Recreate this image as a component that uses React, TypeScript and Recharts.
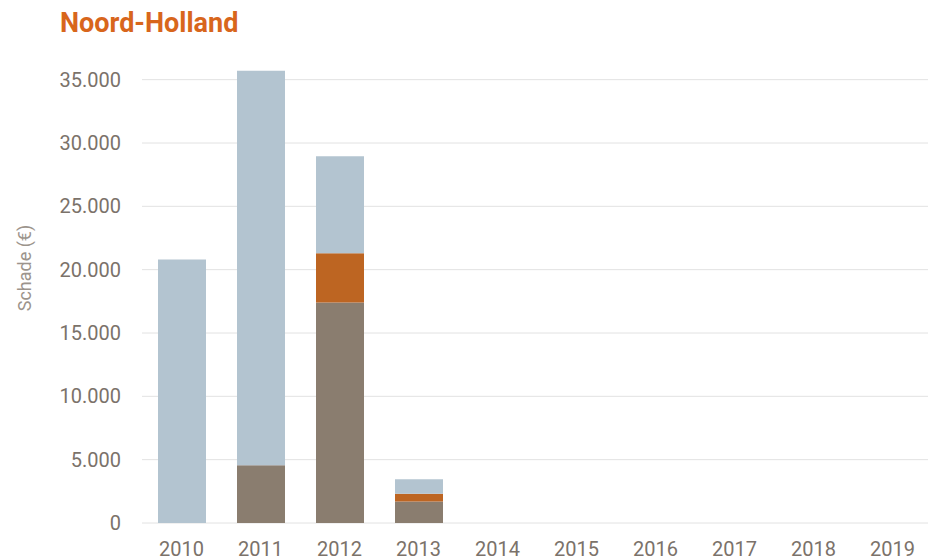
import React from "react";
import { BarChart, Bar, XAxis, YAxis, CartesianGrid } from "recharts";

const years = ["2010", "2011", "2012", "2013", "2014", "2015", "2016", "2017", "2018", "2019"];
const brownValues = [0, 4550, 17400, 1700, 0, 0, 0, 0, 0, 0];
const orangeValues = [0, 0, 3900, 600, 0, 0, 0, 0, 0, 0];
const blueValues = [20800, 31150, 7650, 1150, 0, 0, 0, 0, 0, 0];
const yTicks = [0, 5000, 10000, 15000, 20000, 25000, 30000, 35000];

const data = years.map((year, i) => ({
  year,
  brown: brownValues[i],
  orange: orangeValues[i],
  blue: blueValues[i],
}));

const fmt = (v: number) => (v === 0 ? "0" : v.toLocaleString("de-DE"));

const FONT = "Roboto, 'DejaVu Sans', sans-serif";

export default function App() {
  return (
    <div
      style={{
        position: "fixed",
        left: 0,
        top: 0,
        width: 928,
        height: 560,
        overflow: "hidden",
        background: "#ffffff",
        fontFamily: FONT,
      }}
    >
      <div
        style={{
          position: "absolute",
          left: 60,
          top: 6,
          fontSize: 27,
          fontWeight: 700,
          color: "#d8661c",
          fontFamily: FONT,
          lineHeight: "34px",
        }}
      >
        Noord-Holland
      </div>
      <div
        style={{
          position: "absolute",
          left: 24,
          top: 268,
          transform: "translate(-50%, -50%) rotate(-90deg)",
          fontSize: 18,
          color: "#9c948c",
          whiteSpace: "nowrap",
          fontFamily: FONT,
        }}
      >
        Schade (€)
      </div>
      <div style={{ position: "absolute", left: 0, top: 0 }}>
        <BarChart
          width={932}
          height={560}
          data={data}
          margin={{ top: 67, right: 0, bottom: 0, left: 0 }}
          barSize={48}
        >
          <CartesianGrid vertical={false} stroke="#e2e2e2" strokeWidth={1} horizontalValues={yTicks} />
          <XAxis
            dataKey="year"
            axisLine={false}
            tickLine={false}
            tickSize={0}
            tickMargin={19}
            height={37}
            interval={0}
            tick={{ fill: "#7b726a", fontSize: 20, fontFamily: FONT }}
          />
          <YAxis
            width={142}
            domain={[0, 36000]}
            ticks={yTicks}
            tickFormatter={fmt}
            axisLine={false}
            tickLine={false}
            tickSize={0}
            tickMargin={21}
            interval={0}
            tick={{ fill: "#7b726a", fontSize: 20, fontFamily: FONT }}
          />
          <Bar dataKey="brown" stackId="a" fill="#8a7d6f" isAnimationActive={false} />
          <Bar dataKey="orange" stackId="a" fill="#bd6522" isAnimationActive={false} />
          <Bar dataKey="blue" stackId="a" fill="#b3c4d0" isAnimationActive={false} />
        </BarChart>
      </div>
    </div>
  );
}
